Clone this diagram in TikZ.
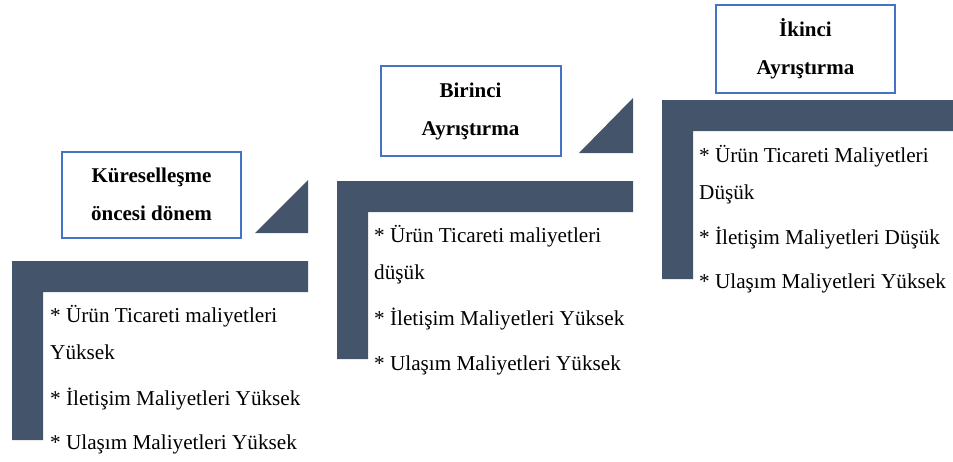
\documentclass[tikz,border=0pt]{standalone}
\usepackage{fontspec}
\setmainfont{Liberation Serif}
\definecolor{slate}{HTML}{44546A}
\definecolor{boxblue}{HTML}{4472C4}
\tikzset{
  bar/.style={fill=slate, draw=none},
  titlebox/.style={draw=boxblue, line width=2pt, fill=white, inner sep=0pt, font=\fontsize{21}{38}\selectfont\bfseries, align=center},
  item/.style={anchor=mid west, inner sep=0pt, font=\fontsize{21.2}{24}\selectfont}
}
\begin{document}
\begin{tikzpicture}[x=1pt,y=-1pt]
\useasboundingbox (0,0) rectangle (953,461);
% group 1
\fill[bar] (12,261) -- (308,261) -- (308,292) -- (43,292) -- (43,440) -- (12,440) -- cycle;
\fill[bar] (255,233) -- (308,233) -- (308,180) -- cycle;
\node[titlebox, minimum width=179pt, minimum height=86pt] (b1) at (151.5,194.5) {Küreselleşme\\öncesi dönem};
\node[item] (t1a) at (50,320) {* Ürün Ticareti maliyetleri};
\node[item] (t1b) at (50,357) {Yüksek};
\node[item] (t1c) at (50,403) {* İletişim Maliyetleri Yüksek};
\node[item] (t1d) at (50,447) {* Ulaşım Maliyetleri Yüksek};
% group 2
\fill[bar] (337,181) -- (633,181) -- (633,212) -- (368,212) -- (368,359) -- (337,359) -- cycle;
\fill[bar] (579,153) -- (633,153) -- (633,98) -- cycle;
\node[titlebox, minimum width=180pt, minimum height=90pt] (b2) at (470.5,111) {Birinci\\Ayrıştırma};
\node[item] (t2a) at (374,240) {* Ürün Ticareti maliyetleri};
\node[item] (t2b) at (374,277) {düşük};
\node[item] (t2c) at (374,323) {* İletişim Maliyetleri Yüksek};
\node[item] (t2d) at (374,368) {* Ulaşım Maliyetleri Yüksek};
% group 3
\fill[bar] (662,100) -- (953,100) -- (953,131) -- (693,131) -- (693,279) -- (662,279) -- cycle;
\node[titlebox, minimum width=179pt, minimum height=88pt] (b3) at (805.5,49) {İkinci\\Ayrıştırma};
\node[item] (t3a) at (699,160) {* Ürün Ticareti Maliyetleri};
\node[item] (t3b) at (699,197) {Düşük};
\node[item] (t3c) at (699,242) {* İletişim Maliyetleri Düşük};
\node[item] (t3d) at (699,286) {* Ulaşım Maliyetleri Yüksek};
\end{tikzpicture}
\end{document}
